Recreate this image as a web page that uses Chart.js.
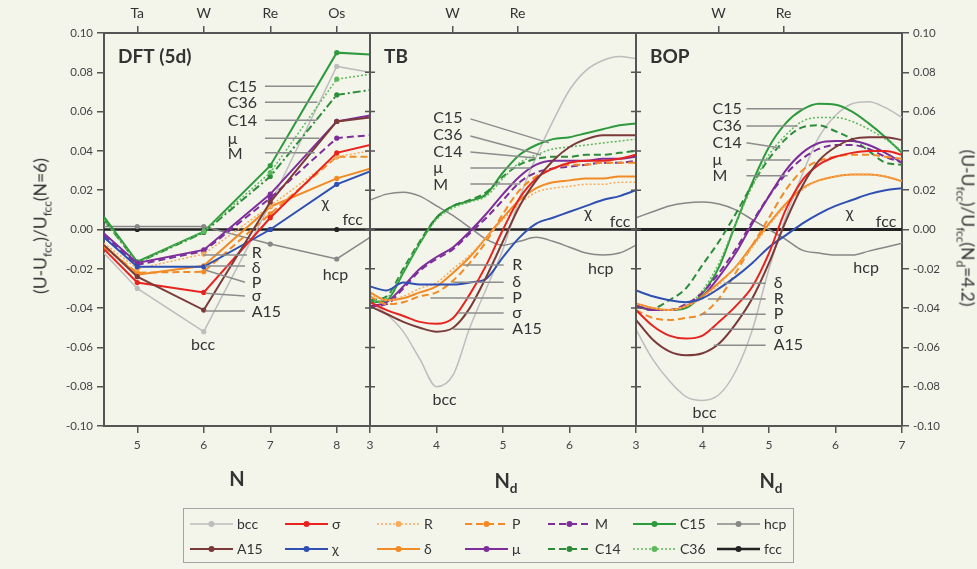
<!DOCTYPE html>
<html>
<head>
<meta charset="utf-8">
<script src="https://cdn.jsdelivr.net/npm/chart.js@4.4.1/dist/chart.umd.min.js"></script>
<style>
  body { margin: 0; background: #f3f5ea; }
  #wrap { position: relative; width: 977px; height: 569px; overflow: hidden; background: #f3f5ea;
          font-family: Lato, "DejaVu Sans", sans-serif; color: #333; }
  #c { position: absolute; left: 0; top: 0; }
  .t { position: absolute; white-space: nowrap; transform: translate(-50%, -50%); }
  .ax { font-weight: bold; font-size: 20px; }
  .yt { font-size: 17.5px; }
  sub { font-size: 0.68em; vertical-align: -0.4em; line-height: 0; }
  #legend { position: absolute; left: 183px; top: 508px; width: 611px; height: 55px; box-sizing: border-box;
            border: 1.5px solid #a3a3a3; padding: 2px 0 0 6px; display: grid;
            grid-template-columns: 95px 92px 88px 83px 85px 84px 76px; grid-auto-rows: 25px; font-size: 14px; }
  .it { display: flex; align-items: center; }
  .it svg { margin-right: 4px; }
</style>
</head>
<body>
<div id="wrap">
  <canvas id="c" width="977" height="500"></canvas>
  <div class="t yt" style="left:40px; top:226px; transform: translate(-50%,-50%) rotate(-90deg);">(U-U<sub>fcc</sub>)/U<sub>fcc</sub>(N=6)</div>
  <div class="t yt" style="left:968px; top:228px; transform: translate(-50%,-50%) rotate(90deg);">(U-U<sub>fcc</sub>)/U<sub>fcc</sub>(N<sub>d</sub>=4.2)</div>
  <div class="t ax" style="left:237px; top:478px;">N</div>
  <div class="t ax" style="left:506px; top:480px;">N<sub>d</sub></div>
  <div class="t ax" style="left:771px; top:480px;">N<sub>d</sub></div>
  <div id="legend"></div>
</div>
<script>
// ---- DFT (5d), x = N ----
const dftN     = [4.5, 5, 6, 7, 8, 8.5];
const dftBcc   = [-0.012, -0.030, -0.052, 0.013, 0.083, 0.080];
const dftA15   = [-0.008, -0.024, -0.041, 0.014, 0.055, 0.057];
const dftSigma = [-0.010, -0.027, -0.032, 0.006, 0.039, 0.043];
const dftChi   = [-0.004, -0.019, -0.019, 0.000, 0.023, 0.0295];
const dftR     = [-0.007, -0.020, -0.0125, 0.012, 0.037, 0.040];
const dftDelta = [-0.008, -0.023, -0.0185, 0.0116, 0.026, 0.031];
const dftP     = [-0.009, -0.022, -0.0215, 0.008, 0.037, 0.037];
const dftMu    = [-0.002, -0.017, -0.0104, 0.018, 0.055, 0.058];
const dftM     = [-0.003, -0.018, -0.011, 0.016, 0.0465, 0.048];
const dftC14   = [0.005, -0.017, -0.0015, 0.027, 0.0685, 0.071];
const dftC15   = [0.0065, -0.0164, -0.0011, 0.0325, 0.090, 0.089];
const dftC36   = [0.005, -0.017, -0.001, 0.029, 0.0765, 0.079];
const dftHcp   = [0.0015, 0.0015, 0.0015, -0.0074, -0.015, -0.004];
const dftFcc   = [0, 0, 0, 0, 0, 0];

// ---- TB, x = Nd ----
const tbNd    = [3, 3.25, 3.5, 3.75, 4, 4.25, 4.5, 4.75, 5, 5.25, 5.5, 5.75, 6, 6.25, 6.5, 6.75, 7];
const tbBcc   = [-0.037, -0.043, -0.052, -0.066, -0.080, -0.074, -0.050, -0.030, -0.010, 0.016, 0.037, 0.055, 0.071, 0.081, 0.086, 0.088, 0.087];
const tbA15   = [-0.039, -0.043, -0.047, -0.050, -0.052, -0.050, -0.040, -0.024, -0.006, 0.012, 0.025, 0.035, 0.042, 0.046, 0.048, 0.048, 0.048];
const tbSigma = [-0.037, -0.041, -0.044, -0.047, -0.048, -0.045, -0.033, -0.018, 0.000, 0.016, 0.026, 0.031, 0.034, 0.035, 0.035, 0.036, 0.038];
const tbChi   = [-0.029, -0.031, -0.027, -0.028, -0.028, -0.028, -0.027, -0.025, -0.014, -0.004, 0.003, 0.006, 0.009, 0.012, 0.015, 0.017, 0.020];
const tbR     = [-0.033, -0.036, -0.034, -0.030, -0.027, -0.020, -0.013, -0.004, 0.005, 0.013, 0.019, 0.021, 0.022, 0.023, 0.023, 0.024, 0.024];
const tbDelta = [-0.032, -0.036, -0.035, -0.032, -0.029, -0.022, -0.014, -0.004, 0.006, 0.015, 0.021, 0.024, 0.025, 0.026, 0.026, 0.027, 0.027];
const tbP     = [-0.034, -0.038, -0.037, -0.034, -0.032, -0.026, -0.017, -0.006, 0.008, 0.020, 0.027, 0.031, 0.033, 0.033, 0.034, 0.034, 0.034];
const tbMu    = [-0.039, -0.037, -0.029, -0.020, -0.014, -0.009, -0.001, 0.008, 0.018, 0.027, 0.033, 0.035, 0.035, 0.035, 0.036, 0.036, 0.037];
const tbM     = [-0.039, -0.038, -0.030, -0.021, -0.015, -0.010, -0.002, 0.006, 0.015, 0.024, 0.029, 0.031, 0.032, 0.033, 0.034, 0.034, 0.035];
const tbC14   = [-0.036, -0.034, -0.020, -0.006, 0.006, 0.012, 0.015, 0.019, 0.027, 0.033, 0.036, 0.037, 0.037, 0.038, 0.038, 0.039, 0.040];
const tbC15   = [-0.037, -0.036, -0.022, -0.007, 0.006, 0.012, 0.0145, 0.018, 0.029, 0.038, 0.043, 0.046, 0.047, 0.049, 0.051, 0.053, 0.054];
const tbC36   = [-0.037, -0.035, -0.021, -0.007, 0.005, 0.011, 0.014, 0.017, 0.026, 0.034, 0.038, 0.041, 0.042, 0.043, 0.044, 0.045, 0.046];
const tbHcp   = [0.015, 0.018, 0.019, 0.017, 0.012, 0.007, 0.001, -0.005, -0.008, -0.006, -0.004, -0.006, -0.009, -0.012, -0.013, -0.012, -0.008];
const tbFcc   = [0, 0, 0, 0, 0, 0, 0, 0, 0, 0, 0, 0, 0, 0, 0, 0, 0];

// ---- BOP, x = Nd ----
const bopNd    = [3, 3.25, 3.5, 3.75, 4, 4.25, 4.5, 4.75, 5, 5.25, 5.5, 5.75, 6, 6.25, 6.5, 6.75, 7];
const bopBcc   = [-0.051, -0.066, -0.077, -0.085, -0.087, -0.084, -0.072, -0.051, -0.020, 0.006, 0.028, 0.047, 0.058, 0.064, 0.065, 0.062, 0.057];
const bopA15   = [-0.046, -0.056, -0.062, -0.064, -0.063, -0.058, -0.048, -0.035, -0.017, 0.004, 0.022, 0.035, 0.042, 0.046, 0.047, 0.047, 0.0455];
const bopSigma = [-0.041, -0.049, -0.054, -0.0555, -0.054, -0.047, -0.039, -0.029, -0.012, 0.010, 0.025, 0.033, 0.037, 0.039, 0.040, 0.040, 0.038];
const bopChi   = [-0.031, -0.034, -0.036, -0.037, -0.035, -0.030, -0.024, -0.017, -0.009, -0.003, 0.003, 0.008, 0.012, 0.015, 0.018, 0.020, 0.021];
const bopR     = [-0.038, -0.040, -0.041, -0.039, -0.035, -0.028, -0.019, -0.009, 0.002, 0.012, 0.020, 0.025, 0.027, 0.028, 0.028, 0.027, 0.025];
const bopDelta = [-0.0376, -0.040, -0.041, -0.039, -0.034, -0.027, -0.019, -0.008, 0.003, 0.013, 0.021, 0.025, 0.027, 0.028, 0.028, 0.027, 0.0245];
const bopP     = [-0.041, -0.045, -0.046, -0.045, -0.043, -0.035, -0.022, -0.008, 0.006, 0.020, 0.030, 0.035, 0.037, 0.038, 0.038, 0.037, 0.036];
const bopMu    = [-0.0385, -0.041, -0.041, -0.039, -0.034, -0.024, -0.012, 0.003, 0.017, 0.030, 0.039, 0.044, 0.045, 0.045, 0.043, 0.039, 0.034];
const bopM     = [-0.039, -0.041, -0.041, -0.038, -0.032, -0.022, -0.010, 0.004, 0.017, 0.028, 0.036, 0.041, 0.043, 0.043, 0.041, 0.037, 0.034];
const bopC14   = [-0.039, -0.040, -0.036, -0.030, -0.018, -0.006, 0.008, 0.023, 0.036, 0.046, 0.052, 0.053, 0.050, 0.046, 0.040, 0.034, 0.033];
const bopC15   = [-0.039, -0.041, -0.041, -0.040, -0.0325, -0.019, 0.003, 0.024, 0.042, 0.054, 0.061, 0.064, 0.0635, 0.060, 0.054, 0.047, 0.039];
const bopC36   = [-0.039, -0.041, -0.041, -0.039, -0.031, -0.017, 0.003, 0.022, 0.038, 0.048, 0.055, 0.057, 0.057, 0.055, 0.051, 0.046, 0.040];
const bopHcp   = [0.006, 0.009, 0.012, 0.0135, 0.014, 0.013, 0.010, 0.005, 0.000, -0.005, -0.0105, -0.012, -0.013, -0.013, -0.011, -0.009, -0.007];
const bopFcc   = [0, 0, 0, 0, 0, 0, 0, 0, 0, 0, 0, 0, 0, 0, 0, 0, 0];

// axis ticks
const yTicks = [-0.10, 0.10, 0.02];          // min, max, step
const dftTicks = [5, 6, 7, 8];
const tbTicks = [3, 4, 5, 6];
const bopTicks = [3, 4, 5, 6, 7];
const dftTopTicks = [5, 6, 7, 8];
const dftTopNames = ['Ta', 'W', 'Re', 'Os'];
const ndTopTicks = [4.24, 5.22];
const ndTopNames = ['W', 'Re'];

const styles = {
  bcc:   { label: 'bcc', color: '#bdbdbd', width: 1.5, dash: [] },
  A15:   { label: 'A15', color: '#7b3a3a', width: 2, dash: [] },
  sigma: { label: 'σ',   color: '#e8231f', width: 2, dash: [] },
  chi:   { label: 'χ',   color: '#2f4fb2', width: 2, dash: [] },
  R:     { label: 'R',   color: '#f6ab5e', width: 1.5, dash: [2, 2] },
  delta: { label: 'δ',   color: '#f28a26', width: 2, dash: [] },
  P:     { label: 'P',   color: '#f28a26', width: 2, dash: [7, 4] },
  mu:    { label: 'μ',   color: '#7e2e9b', width: 2, dash: [] },
  M:     { label: 'M',   color: '#7e2e9b', width: 2, dash: [7, 4] },
  C14:   { label: 'C14', color: '#2c8c3a', width: 2, dash: [7, 4] },
  C15:   { label: 'C15', color: '#2e9a3e', width: 2, dash: [] },
  C36:   { label: 'C36', color: '#5db85d', width: 1.5, dash: [2, 2] },
  hcp:   { label: 'hcp', color: '#878787', width: 1.5, dash: [] },
  fcc:   { label: 'fcc', color: '#222222', width: 2.5, dash: [] }
};
const legendOrder = ['bcc', 'sigma', 'R', 'P', 'M', 'C15', 'hcp', 'A15', 'chi', 'delta', 'mu', 'C14', 'C36', 'fcc'];

// label placements (data coordinates of each panel)
const dftNotes = [
  { t: 'C15', x: 6.36, y: 0.0726, l: [6.92, 0.0729, 7.67, 0.0729] },
  { t: 'C36', x: 6.36, y: 0.0645, l: [6.92, 0.0648, 7.71, 0.0648] },
  { t: 'C14', x: 6.36, y: 0.0553, l: [6.92, 0.0556, 7.70, 0.0556] },
  { t: 'μ',   x: 6.36, y: 0.0461, l: [6.92, 0.0464, 7.74, 0.0464] },
  { t: 'M',   x: 6.36, y: 0.0387, l: [6.92, 0.0390, 7.67, 0.0390] },
  { t: 'R',   x: 6.72, y: -0.0120, l: [5.99, -0.0130, 6.65, -0.0130] },
  { t: 'δ',   x: 6.72, y: -0.0196, l: [6.02, -0.0186, 6.62, -0.0186] },
  { t: 'P',   x: 6.72, y: -0.0273, l: [6.02, -0.0206, 6.62, -0.0268] },
  { t: 'σ',   x: 6.72, y: -0.0339, l: [6.02, -0.0324, 6.62, -0.0339] },
  { t: 'A15', x: 6.72, y: -0.0420, l: [6.02, -0.0415, 6.62, -0.0415] },
  { t: 'bcc', x: 5.99, y: -0.0589, c: true },
  { t: 'χ',   x: 7.83, y: 0.0135, c: true },
  { t: 'fcc', x: 8.24, y: 0.0048, c: true },
  { t: 'hcp', x: 7.98, y: -0.0232, c: true }
];
const tbNotes = [
  { t: 'C15', x: 3.95, y: 0.0568, l: [4.51, 0.0563, 5.69, 0.0441] },
  { t: 'C36', x: 3.95, y: 0.0481, l: [4.51, 0.0476, 5.57, 0.0379] },
  { t: 'C14', x: 3.95, y: 0.0395, l: [4.51, 0.0395, 5.49, 0.0364] },
  { t: 'μ',   x: 3.95, y: 0.0313, l: [4.51, 0.0313, 5.42, 0.0313] },
  { t: 'M',   x: 3.95, y: 0.0227, l: [4.51, 0.0232, 5.26, 0.0232] },
  { t: 'R',   x: 5.14, y: -0.0181, l: [4.40, -0.0181, 5.01, -0.0181] },
  { t: 'δ',   x: 5.14, y: -0.0268, l: [4.25, -0.0268, 5.01, -0.0268] },
  { t: 'P',   x: 5.14, y: -0.0349, l: [3.91, -0.0349, 5.01, -0.0349] },
  { t: 'σ',   x: 5.14, y: -0.0425, l: [4.33, -0.0425, 5.01, -0.0425] },
  { t: 'A15', x: 5.14, y: -0.0507, l: [4.25, -0.0507, 5.01, -0.0507] },
  { t: 'bcc', x: 4.12, y: -0.0869, c: true },
  { t: 'χ',   x: 6.28, y: 0.0084, c: true },
  { t: 'fcc', x: 6.76, y: 0.0038, c: true },
  { t: 'hcp', x: 6.47, y: -0.0201, c: true }
];
const bopNotes = [
  { t: 'C15', x: 4.15, y: 0.0614, l: [4.66, 0.0614, 5.52, 0.0614] },
  { t: 'C36', x: 4.15, y: 0.0527, l: [4.66, 0.0527, 5.43, 0.0527] },
  { t: 'C14', x: 4.15, y: 0.0441, l: [4.66, 0.0441, 5.17, 0.0415] },
  { t: 'μ',   x: 4.15, y: 0.0354, l: [4.66, 0.0354, 5.32, 0.0354] },
  { t: 'M',   x: 4.15, y: 0.0273, l: [4.66, 0.0273, 5.28, 0.0273] },
  { t: 'δ',   x: 5.07, y: -0.0273, l: [4.32, -0.0273, 4.95, -0.0273] },
  { t: 'R',   x: 5.07, y: -0.0354, l: [4.08, -0.0354, 4.95, -0.0354] },
  { t: 'P',   x: 5.07, y: -0.0431, l: [3.97, -0.0431, 4.95, -0.0431] },
  { t: 'σ',   x: 5.07, y: -0.0507, l: [4.12, -0.0507, 4.95, -0.0507] },
  { t: 'A15', x: 5.07, y: -0.0589, l: [4.17, -0.0589, 4.95, -0.0589] },
  { t: 'bcc', x: 4.03, y: -0.0935, c: true },
  { t: 'χ',   x: 6.21, y: 0.0084, c: true },
  { t: 'fcc', x: 6.76, y: 0.0038, c: true },
  { t: 'hcp', x: 6.46, y: -0.0196, c: true }
];

const panels = [
  { axis: 'x0', title: 'DFT (5d)', notes: dftNotes, xs: dftN, dots: true, dash: { C14: [8, 3, 2, 3] },
    series: { fcc: dftFcc, hcp: dftHcp, bcc: dftBcc, A15: dftA15, sigma: dftSigma, chi: dftChi, R: dftR, delta: dftDelta,
              P: dftP, M: dftM, mu: dftMu, C36: dftC36, C14: dftC14, C15: dftC15 } },
  { axis: 'x1', title: 'TB', notes: tbNotes, xs: tbNd, dots: false, dash: {},
    series: { fcc: tbFcc, hcp: tbHcp, bcc: tbBcc, A15: tbA15, sigma: tbSigma, chi: tbChi, R: tbR, delta: tbDelta,
              P: tbP, M: tbM, mu: tbMu, C36: tbC36, C14: tbC14, C15: tbC15 } },
  { axis: 'x2', title: 'BOP', notes: bopNotes, xs: bopNd, dots: false, dash: {},
    series: { fcc: bopFcc, hcp: bopHcp, bcc: bopBcc, A15: bopA15, sigma: bopSigma, chi: bopChi, R: bopR, delta: bopDelta,
              P: bopP, M: bopM, mu: bopMu, C36: bopC36, C14: bopC14, C15: bopC15 } }
];

const datasets = [];
panels.forEach(p => {
  Object.keys(p.series).forEach(key => {
    const st = styles[key];
    const ys = p.series[key];
    datasets.push({
      label: p.title + ' ' + st.label,
      xAxisID: p.axis,
      yAxisID: 'y',
      data: p.xs.map((x, i) => ({ x: x, y: ys[i] })),
      borderColor: st.color,
      backgroundColor: st.color,
      borderWidth: key === 'fcc' && p.axis === 'x2' ? 3 : st.width,
      borderDash: p.dash[key] || st.dash,
      pointRadius: p.dots ? p.xs.map(x => Number.isInteger(x) ? 2.6 : 0) : 0,
      pointBorderWidth: 0,
      pointBackgroundColor: st.color,
      cubicInterpolationMode: p.dots ? 'default' : 'monotone',
      tension: 0,
      fill: false,
      order: key === 'fcc' ? 20 : (key === 'bcc' || key === 'hcp' ? 10 : 0)
    });
  });
});

const gridOpts = { drawOnChartArea: false, tickLength: 7, color: '#555', lineWidth: 1.5 };
const borderOpts = { color: '#555', width: 2 };

function bottomAxis(min, max, vals) {
  return {
    type: 'linear', position: 'bottom', stack: 'bottom', min: min, max: max,
    afterBuildTicks: s => { s.ticks = vals.map(v => ({ value: v })); },
    afterFit: s => { s.height = 74; },
    ticks: { autoSkip: false, maxRotation: 0, font: { size: 12 }, color: '#444', padding: 5, callback: v => String(v) },
    grid: gridOpts, border: borderOpts
  };
}
function topAxis(min, max, vals, names) {
  return {
    type: 'linear', position: 'top', stack: 'top', min: min, max: max,
    afterBuildTicks: s => { s.ticks = vals.map(v => ({ value: v })); },
    afterFit: s => { s.height = 33; },
    ticks: { autoSkip: false, maxRotation: 0, font: { size: 14 }, color: '#333', padding: 4, callback: (v, i) => names[i] },
    grid: gridOpts, border: borderOpts
  };
}
function yAxis(pos, w) {
  return {
    type: 'linear', position: pos, min: yTicks[0], max: yTicks[1],
    afterFit: s => { s.width = w; },
    ticks: { stepSize: yTicks[2], font: { size: 11.5 }, color: '#444', padding: 4, callback: v => v.toFixed(2) },
    grid: gridOpts, border: borderOpts
  };
}

const panelPlugin = {
  id: 'panels',
  afterDatasetsDraw(chart) {
    const { ctx, chartArea: a, scales } = chart;
    const y = scales.y;
    ctx.save();
    // panel separators with small inward ticks
    ['x1', 'x2'].forEach(id => {
      const x = Math.round(scales[id].left);
      ctx.strokeStyle = '#555';
      ctx.lineWidth = 2;
      ctx.beginPath(); ctx.moveTo(x, a.top); ctx.lineTo(x, a.bottom); ctx.stroke();
      ctx.lineWidth = 1.5;
      ctx.beginPath();
      y.ticks.forEach(t => {
        const py = y.getPixelForValue(t.value);
        ctx.moveTo(x - 5, py); ctx.lineTo(x + 5, py);
      });
      ctx.stroke();
    });
    panels.forEach(p => {
      const xs = scales[p.axis];
      ctx.fillStyle = '#333';
      ctx.font = 'bold 19px Lato, "DejaVu Sans", sans-serif';
      ctx.textAlign = 'left';
      ctx.textBaseline = 'middle';
      ctx.fillText(p.title, xs.left + 14, a.top + 24);
      ctx.font = '16px Lato, "DejaVu Sans", sans-serif';
      p.notes.forEach(n => {
        if (n.l) {
          ctx.strokeStyle = '#8c8c8c';
          ctx.lineWidth = 1.5;
          ctx.beginPath();
          ctx.moveTo(xs.getPixelForValue(n.l[0]), y.getPixelForValue(n.l[1]));
          ctx.lineTo(xs.getPixelForValue(n.l[2]), y.getPixelForValue(n.l[3]));
          ctx.stroke();
        }
        ctx.textAlign = n.c ? 'center' : 'left';
        ctx.fillText(n.t, xs.getPixelForValue(n.x), y.getPixelForValue(n.y));
      });
    });
    ctx.restore();
  }
};

Chart.defaults.font.family = 'Lato, "DejaVu Sans", sans-serif';
Chart.defaults.color = '#333';

// top stacked axes are laid out right-to-left, so the BOP one is listed first
new Chart(document.getElementById('c'), {
  type: 'line',
  data: { datasets: datasets },
  options: {
    responsive: false,
    animation: false,
    layout: { padding: 0 },
    plugins: { legend: { display: false }, tooltip: { enabled: false } },
    scales: {
      y: yAxis('left', 104),
      y2: yAxis('right', 75),
      x0: bottomAxis(4.5, 8.5, dftTicks),
      x1: bottomAxis(3, 7, tbTicks),
      x2: bottomAxis(3, 7, bopTicks),
      tBop: topAxis(3, 7, ndTopTicks, ndTopNames),
      tTb: topAxis(3, 7, ndTopTicks, ndTopNames),
      tDft: topAxis(4.5, 8.5, dftTopTicks, dftTopNames)
    }
  },
  plugins: [panelPlugin]
});

// legend
const leg = document.getElementById('legend');
legendOrder.forEach(key => {
  const st = styles[key];
  const item = document.createElement('div');
  item.className = 'it';
  item.innerHTML =
    '<svg width="43" height="10"><line x1="0" y1="5" x2="43" y2="5" stroke="' + st.color +
    '" stroke-width="' + st.width + '" stroke-dasharray="' + (st.dash.length ? st.dash.join(' ') : 'none') +
    '"/><circle cx="21.5" cy="5" r="3" fill="' + st.color + '"/></svg><span>' + st.label + '</span>';
  leg.appendChild(item);
});
</script>
</body>
</html>
